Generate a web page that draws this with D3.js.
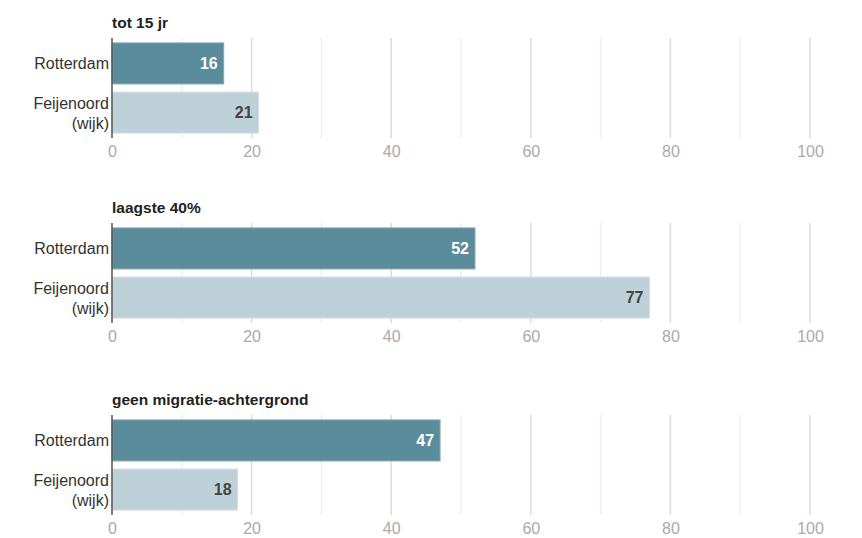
<!DOCTYPE html>
<html>
<head>
<meta charset="utf-8">
<script src="https://cdn.jsdelivr.net/npm/d3@7"></script>
<style>
  body { margin: 0; background: #fff; }
  svg { font-family: "Liberation Sans", Arial, sans-serif; }
</style>
</head>
<body>
<svg id="chart"></svg>
<script>
// data
const panelTitles = ["tot 15 jr", "laagste 40%", "geen migratie-achtergrond"];
const areas = ["Rotterdam", "Feijenoord (wijk)"];
const rotterdamValues = [16, 52, 47];
const feijenoordValues = [21, 77, 18];
const tickValues = [0, 20, 40, 60, 80, 100];

const width = 862;
const height = 538;
const margin = { left: 112, right: 52 };
const panelTops = [38, 223, 415];   // top of each plot area
const plotHeight = 100;
const colors = ["#5b8c9b", "#bfd1d8"];
const strokes = ["#7fa7b4", "#d3e0e5"];
const textColors = ["#ffffff", "#444444"];

const svg = d3.select("#chart")
  .attr("width", width)
  .attr("height", height);

const x = d3.scaleLinear()
  .domain([0, 100])
  .range([margin.left, width - margin.right]);

const y = d3.scaleBand()
  .domain(areas)
  .range([0, plotHeight])
  .paddingInner(0.165)
  .paddingOuter(0.1);

panelTitles.forEach((title, p) => {
  const g = svg.append("g")
    .attr("transform", `translate(0, ${panelTops[p]})`);

  const values = [rotterdamValues[p], feijenoordValues[p]];

  // title
  g.append("text")
    .attr("x", margin.left)
    .attr("y", -10)
    .attr("font-size", 15.5)
    .attr("font-weight", "bold")
    .attr("fill", "#222")
    .text(title);

  // gridlines, minor every 10, major every 20
  g.append("g")
    .selectAll("line")
    .data(d3.range(10, 101, 10))
    .join("line")
      .attr("x1", d => x(d))
      .attr("x2", d => x(d))
      .attr("y1", 0)
      .attr("y2", plotHeight)
      .attr("stroke", d => d % 20 === 0 ? "#dcdcdc" : "#efefef")
      .attr("stroke-width", 1.5);

  // bars
  g.append("g")
    .selectAll("rect")
    .data(values)
    .join("rect")
      .attr("x", x(0))
      .attr("y", (d, i) => y(areas[i]))
      .attr("width", d => x(d) - x(0))
      .attr("height", y.bandwidth())
      .attr("fill", (d, i) => colors[i])
      .attr("stroke", (d, i) => strokes[i])
      .attr("stroke-width", 1);

  // value labels inside bars
  g.append("g")
    .selectAll("text")
    .data(values)
    .join("text")
      .attr("x", d => x(d) - 6)
      .attr("y", (d, i) => y(areas[i]) + y.bandwidth() / 2)
      .attr("dy", "0.36em")
      .attr("text-anchor", "end")
      .attr("font-size", 16)
      .attr("font-weight", "bold")
      .attr("fill", (d, i) => textColors[i])
      .text(d => d);

  // category labels
  const cat = g.append("g")
    .selectAll("text")
    .data(areas)
    .join("text")
      .attr("x", margin.left - 3)
      .attr("y", d => y(d) + y.bandwidth() / 2)
      .attr("text-anchor", "end")
      .attr("font-size", 16)
      .attr("fill", "#333");

  cat.each(function(d) {
    const parts = d.split(" ");
    const t = d3.select(this);
    if (parts.length === 1) {
      t.append("tspan").attr("dy", "0.36em").text(d);
    } else {
      t.append("tspan").attr("x", margin.left - 3).attr("dy", "-0.25em").text(parts[0]);
      t.append("tspan").attr("x", margin.left - 3).attr("dy", "1.3em").text(parts[1]);
    }
  });

  // left axis line
  g.append("line")
    .attr("x1", x(0))
    .attr("x2", x(0))
    .attr("y1", 0)
    .attr("y2", plotHeight)
    .attr("stroke", "#555")
    .attr("stroke-width", 1.5);

  // bottom axis tick labels
  const xAxis = d3.axisBottom(x)
    .tickValues(tickValues)
    .tickSize(0)
    .tickPadding(8);

  const ax = g.append("g")
    .attr("transform", `translate(0, ${plotHeight})`)
    .call(xAxis);
  ax.select(".domain").remove();
  ax.selectAll("text")
    .attr("font-size", 16)
    .attr("font-family", "Liberation Sans, Arial, sans-serif")
    .attr("fill", "#aaa");
});
</script>
</body>
</html>
